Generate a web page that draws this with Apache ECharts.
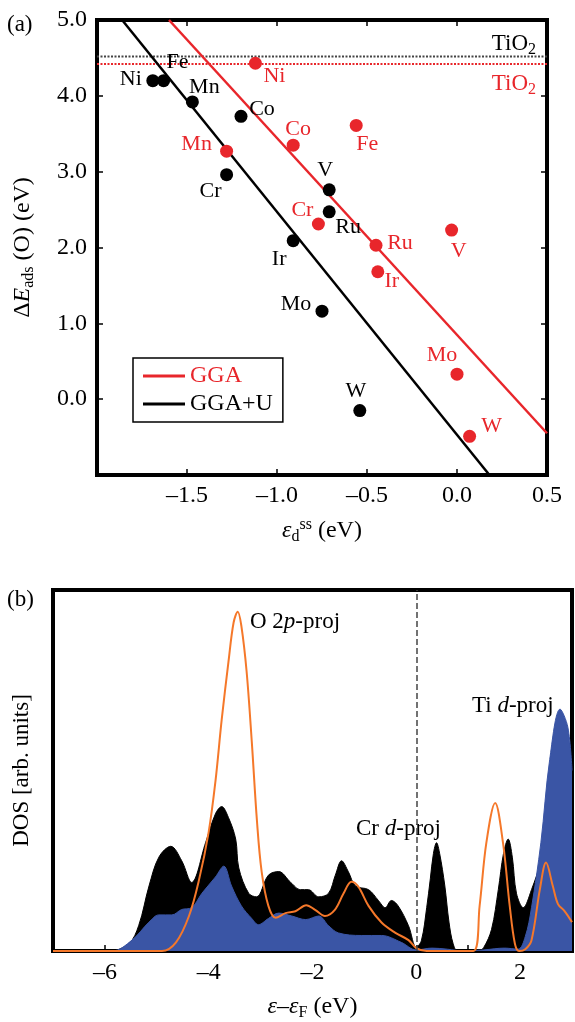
<!DOCTYPE html>
<html>
<head>
<meta charset="utf-8">
<script src="https://cdn.jsdelivr.net/npm/echarts@6.0.0/dist/echarts.min.js"></script>
<style>
  html, body { margin: 0; padding: 0; background: #fff; }
  #chart { width: 575px; height: 1022px; }
</style>
</head>
<body>
<div id="chart"></div>
<script>
// ---------- (a) O adsorption energy vs. d-band centre of the dopant ----------
const elements = ['Ni', 'Fe', 'Mn', 'Co', 'Cr', 'Ir', 'V', 'Ru', 'Mo', 'W'];
// GGA+U
const ggaU_ed = [-1.69, -1.63, -1.47, -1.20, -1.28, -0.91, -0.71, -0.71, -0.75, -0.54];
const ggaU_E  = [4.20, 4.20, 3.92, 3.73, 2.96, 2.09, 2.76, 2.47, 1.16, -0.15];
// GGA
const gga_ed  = [-1.12, -0.56, -1.28, -0.91, -0.77, -0.44, -0.03, -0.45, 0.00, 0.07];
const gga_E   = [4.43, 3.61, 3.27, 3.35, 2.31, 1.68, 2.23, 2.03, 0.33, -0.49];
// linear fits [intercept, slope]
const ggaFit  = [0.848, -2.595];
const ggaUFit = [-0.47, -2.94];
// pure TiO2 reference levels
const tio2_ggaU = 4.52;
const tio2_gga  = 4.42;
// axis ticks
const edTicks = [-2.0, 0.5, 0.5];   // min, max, step
const eTicks  = [-1, 5, 1];

// ---------- (b) projected density of states ----------
const crE = [-7, -5.92, -5.54, -5.35, -5.15, -4.96, -4.73, -4.52, -4.33, -4.06, -3.87, -3.75, -3.62, -3.48,
  -3.42, -3.23, -3.08, -2.85, -2.65, -2.42, -2.23, -2.08, -1.88, -1.69, -1.56, -1.44, -1.31, -1.17, -0.92,
  -0.73, -0.6, -0.48, -0.35, -0.15, 0, 0.1, 0.2, 0.27, 0.33, 0.39, 0.45, 0.55, 0.63, 0.71, 0.8, 1.2, 1.3,
  1.45, 1.58, 1.68, 1.77, 1.85, 1.93, 2.06, 2.22, 2.4, 2.57, 2.77, 2.92, 3.0];
const crDos = [0, 0, 2, 7, 18, 26, 29, 25, 19, 30, 38, 40, 37, 31,
  23, 16, 15, 21, 22, 19, 17, 17, 15, 16, 21, 25, 22, 18, 17,
  14, 12, 14, 12.5, 7, 1, 3, 12, 20, 27, 30, 27, 18, 8, 2, 0, 0, 1,
  6, 17, 27, 31, 26, 16, 12, 17, 25, 40, 55, 50, 45];
const tiE = [-7, -5.86, -5.48, -5.15, -4.96, -4.71, -4.52, -4.33, -4.13, -3.87, -3.71, -3.56, -3.37, -3.17,
  -3.04, -2.85, -2.65, -2.4, -2.13, -1.88, -1.69, -1.5, -1.06, -0.67, -0.29, 0, 0.3, 0.6, 0.9, 1.3, 1.7,
  1.96, 2.1, 2.22, 2.4, 2.57, 2.77, 2.92, 3.0];
const tiDos = [0, 0, 3, 8, 10, 10, 11.5, 12, 16, 20.5, 23.5, 18, 12.5, 9,
  7.3, 9, 10.5, 9.7, 8.7, 9.7, 7, 5, 4.3, 4.3, 2.4, 0.3, 0.8, 0.5, 0, 0.3, 0.8,
  0.5, 4, 12, 30, 53, 67, 62, 50];
const oE = [-7, -4.9, -4.63, -4.38, -4.19, -4.0, -3.87, -3.75, -3.62, -3.52, -3.44, -3.37, -3.27, -3.17,
  -3.07, -2.98, -2.85, -2.71, -2.52, -2.33, -2.12, -1.95, -1.76, -1.57, -1.4, -1.25, -1.12, -0.92, -0.67,
  -0.41, -0.15, 0, 0.2, 1.1, 1.22, 1.35, 1.52, 1.67, 1.8, 1.9, 1.98, 2.1, 2.22, 2.38, 2.5, 2.63, 2.73,
  2.86, 3.0];
const oDos = [0, 0, 2.4, 9.7, 19.5, 33, 47, 64, 80, 91, 94, 90, 77.5, 58,
  36, 22, 12.5, 9.2, 10.5, 11, 12.7, 11.4, 9.7, 11.4, 16, 19.2, 17.9, 12.5, 7.9,
  5.1, 3, 0.8, 0, 0, 12.5, 30, 41, 30, 12.5, 2, 0, 0.5, 3, 17, 24.5, 18, 13,
  11, 8];
const dosTicks = [-7, 3, 1];

// ---------- styling ----------
const SERIF = '"Liberation Serif", "Times New Roman", serif';
const RED = '#e8262b';
const BLUE = '#3a55a5';
const ORANGE = '#f5782a';

function richSet(size, color) {
  const base = { fontFamily: SERIF, fontSize: size, color: color, fill: color, lineHeight: 28 };
  const small = Math.round(size * 0.68);
  return {
    n:   base,
    i:   Object.assign({}, base, { fontStyle: 'italic' }),
    sub: { fontFamily: SERIF, fontSize: small, color: color, fill: color, verticalAlign: 'bottom', lineHeight: 16 },
    sup: { fontFamily: SERIF, fontSize: small, color: color, fill: color, verticalAlign: 'top', lineHeight: 16 }
  };
}
const dash = s => String(s).replace('-', '\u2013');

// label placement (centre offset from the marker) for each element
const offU = {
  Ni: [-22, -1], Fe: [14, -18], Mn: [12, -15], Co: [21, -7], Cr: [-16, 17],
  Ir: [-14, 19], V: [-4, -20], Ru: [19, 15], Mo: [-26, -7], W: [-4, -19]
};
const offG = {
  Ni: [19, 13], Fe: [11, 19], Mn: [-30, -7], Co: [5, -16], Cr: [-16, -14],
  Ir: [14, 9], V: [7, 21], Ru: [24, -2], Mo: [-15, -19], W: [22, -10]
};

function points(xs, ys, offs) {
  return elements.map((el, k) => ({
    name: el,
    value: [xs[k], ys[k]],
    label: { offset: offs[el] }
  }));
}

// segment of a fitted line clipped to the plot window
function fitSegment(fit, xmin, xmax, ymin, ymax) {
  const f = x => fit[0] + fit[1] * x;
  const inv = y => (y - fit[0]) / fit[1];
  const xa = Math.max(xmin, Math.min(inv(ymax), inv(ymin)));
  const xb = Math.min(xmax, Math.max(inv(ymax), inv(ymin)));
  return [[xa, f(xa)], [xb, f(xb)]];
}
const zip = (a, b) => a.map((v, k) => [v, b[k]]);

const tickStyle = { show: true, inside: true, length: 6, lineStyle: { color: '#000', width: 1.5 } };
const noLine = { show: false, onZero: false };

const chart = echarts.init(document.getElementById('chart'), null, { renderer: 'canvas' });

chart.setOption({
  animation: false,
  backgroundColor: '#fff',
  grid: [
    { left: 97, top: 20, width: 450, height: 455, show: true, borderColor: '#000', borderWidth: 4, backgroundColor: 'transparent' },
    { left: 53, top: 590, width: 520, height: 369, show: true, borderColor: '#000', borderWidth: 4, backgroundColor: 'transparent' }
  ],
  legend: {
    left: 133, top: 358,
    orient: 'vertical',
    selectedMode: false,
    icon: 'rect',
    itemWidth: 42, itemHeight: 3, itemGap: 4,
    borderColor: '#000', borderWidth: 1.5, borderRadius: 0,
    padding: [6, 10, 6, 10],
    textStyle: { fontFamily: SERIF, fontSize: 24, color: '#000' },
    data: [
      { name: 'GGA', textStyle: { color: RED } },
      { name: 'GGA+U', textStyle: { color: '#000' } }
    ]
  },
  xAxis: [
    {
      gridIndex: 0, type: 'value', min: edTicks[0], max: edTicks[1], interval: edTicks[2],
      axisLine: noLine, axisTick: tickStyle, splitLine: { show: false },
      axisLabel: {
        margin: 9, fontFamily: SERIF, fontSize: 24, color: '#000',
        formatter: v => (v <= edTicks[0] + 1e-9 ? '' : dash(v.toFixed(1)))
      },
      name: '{i|\u03b5}{sub|d}{sup|ss}{n| (eV)}',
      nameLocation: 'middle', nameGap: 42,
      nameTextStyle: { rich: richSet(24, '#000') }
    },
    {
      gridIndex: 0, type: 'value', position: 'top', min: edTicks[0], max: edTicks[1], interval: edTicks[2],
      axisLine: noLine, axisTick: tickStyle, axisLabel: { show: false }, splitLine: { show: false }
    },
    {
      gridIndex: 1, type: 'value', min: dosTicks[0], max: dosTicks[1], interval: dosTicks[2],
      axisLine: noLine, axisTick: tickStyle, splitLine: { show: false },
      axisLabel: {
        margin: 10, fontFamily: SERIF, fontSize: 24, color: '#000',
        formatter: v => (Math.abs(v % 2) === 0 && v > dosTicks[0] && v < dosTicks[1] ? dash(v) : '')
      },
      name: '{i|\u03b5}{n|\u2013}{i|\u03b5}{sub|F}{n| (eV)}',
      nameLocation: 'middle', nameGap: 42,
      nameTextStyle: { rich: richSet(24, '#000') }
    }
  ],
  yAxis: [
    {
      gridIndex: 0, type: 'value', min: eTicks[0], max: eTicks[1], interval: eTicks[2],
      axisLine: noLine, axisTick: tickStyle, splitLine: { show: false },
      axisLabel: {
        margin: 10, fontFamily: SERIF, fontSize: 24, color: '#000',
        formatter: v => (v <= eTicks[0] ? '' : dash(v.toFixed(1)))
      },
      name: '{n|\u0394}{i|E}{sub|ads}{n| (O) (eV)}',
      nameLocation: 'middle', nameGap: 60,
      nameTextStyle: { rich: richSet(24, '#000') }
    },
    {
      gridIndex: 0, type: 'value', position: 'right', min: eTicks[0], max: eTicks[1], interval: eTicks[2],
      axisLine: noLine, axisTick: tickStyle, axisLabel: { show: false }, splitLine: { show: false }
    },
    {
      gridIndex: 1, type: 'value', min: 0, max: 100,
      axisLine: noLine, axisTick: { show: false }, axisLabel: { show: false }, splitLine: { show: false },
      name: 'DOS [arb. units]',
      nameLocation: 'middle', nameGap: 20,
      nameTextStyle: { fontFamily: SERIF, fontSize: 23, color: '#000' }
    }
  ],
  series: [
    // TiO2 reference levels
    {
      type: 'line', xAxisIndex: 0, yAxisIndex: 0, silent: true, symbol: 'none', z: 1,
      data: [[edTicks[0], tio2_ggaU], [edTicks[1], tio2_ggaU]],
      lineStyle: { color: '#444', width: 2, type: [2, 1.5] }
    },
    {
      type: 'line', xAxisIndex: 0, yAxisIndex: 0, silent: true, symbol: 'none', z: 1,
      data: [[edTicks[0], tio2_gga], [edTicks[1], tio2_gga]],
      lineStyle: { color: RED, width: 1.8, type: [2, 1.5] }
    },
    // fitted trends
    {
      name: 'GGA', type: 'line', xAxisIndex: 0, yAxisIndex: 0, symbol: 'none', z: 2,
      data: fitSegment(ggaFit, edTicks[0], edTicks[1], eTicks[0], eTicks[1]),
      itemStyle: { color: RED }, lineStyle: { color: RED, width: 2.5 }
    },
    {
      name: 'GGA+U', type: 'line', xAxisIndex: 0, yAxisIndex: 0, symbol: 'none', z: 2,
      data: fitSegment(ggaUFit, edTicks[0], edTicks[1], eTicks[0], eTicks[1]),
      itemStyle: { color: '#000' }, lineStyle: { color: '#000', width: 2.5 }
    },
    // dopant points
    {
      type: 'scatter', xAxisIndex: 0, yAxisIndex: 0, symbolSize: 13, z: 3,
      itemStyle: { color: '#000', opacity: 1 },
      label: { show: true, position: 'inside', formatter: '{b}', fontFamily: SERIF, fontSize: 22, color: '#000' },
      data: points(ggaU_ed, ggaU_E, offU)
    },
    {
      type: 'scatter', xAxisIndex: 0, yAxisIndex: 0, symbolSize: 13, z: 3,
      itemStyle: { color: RED, opacity: 1 },
      label: { show: true, position: 'inside', formatter: '{b}', fontFamily: SERIF, fontSize: 22, color: RED },
      data: points(gga_ed, gga_E, offG)
    },
    // (b) DOS
    {
      name: 'Cr d-proj', type: 'line', xAxisIndex: 2, yAxisIndex: 2, symbol: 'none', smooth: 0.35, z: 2,
      data: zip(crE, crDos),
      lineStyle: { color: '#000', width: 1 }, areaStyle: { color: '#000', opacity: 1 }
    },
    {
      name: 'Ti d-proj', type: 'line', xAxisIndex: 2, yAxisIndex: 2, symbol: 'none', smooth: 0.35, z: 3,
      data: zip(tiE, tiDos),
      lineStyle: { color: BLUE, width: 1 }, areaStyle: { color: BLUE, opacity: 1 }
    },
    {
      name: 'O 2p-proj', type: 'line', xAxisIndex: 2, yAxisIndex: 2, symbol: 'none', smooth: 0.35, z: 4,
      data: zip(oE, oDos),
      lineStyle: { color: ORANGE, width: 2 },
      markLine: {
        silent: true, symbol: 'none', label: { show: false },
        lineStyle: { color: '#444', type: 'dashed', width: 1.5 },
        data: [{ xAxis: 0 }]
      }
    }
  ],
  graphic: [
    { type: 'text', x: 7, y: 25, style: { text: '(a)', fontFamily: SERIF, fontSize: 23, fill: '#000', verticalAlign: 'middle' } },
    { type: 'text', x: 7, y: 600, style: { text: '(b)', fontFamily: SERIF, fontSize: 23, fill: '#000', verticalAlign: 'middle' } },
    { type: 'text', x: 536, y: 44, style: { text: '{n|TiO}{sub|2}', rich: richSet(23, '#000'), align: 'right', verticalAlign: 'middle' } },
    { type: 'text', x: 536, y: 84, style: { text: '{n|TiO}{sub|2}', rich: richSet(23, RED), align: 'right', verticalAlign: 'middle' } },
    { type: 'text', x: 250, y: 622, style: { text: '{n|O 2}{i|p}{n|-proj}', rich: richSet(23, '#000'), align: 'left', verticalAlign: 'middle' } },
    { type: 'text', x: 356, y: 829, style: { text: '{n|Cr }{i|d}{n|-proj}', rich: richSet(23, '#000'), align: 'left', verticalAlign: 'middle' } },
    { type: 'text', x: 472, y: 706, style: { text: '{n|Ti }{i|d}{n|-proj}', rich: richSet(23, '#000'), align: 'left', verticalAlign: 'middle' } }
  ]
});
</script>
</body>
</html>
